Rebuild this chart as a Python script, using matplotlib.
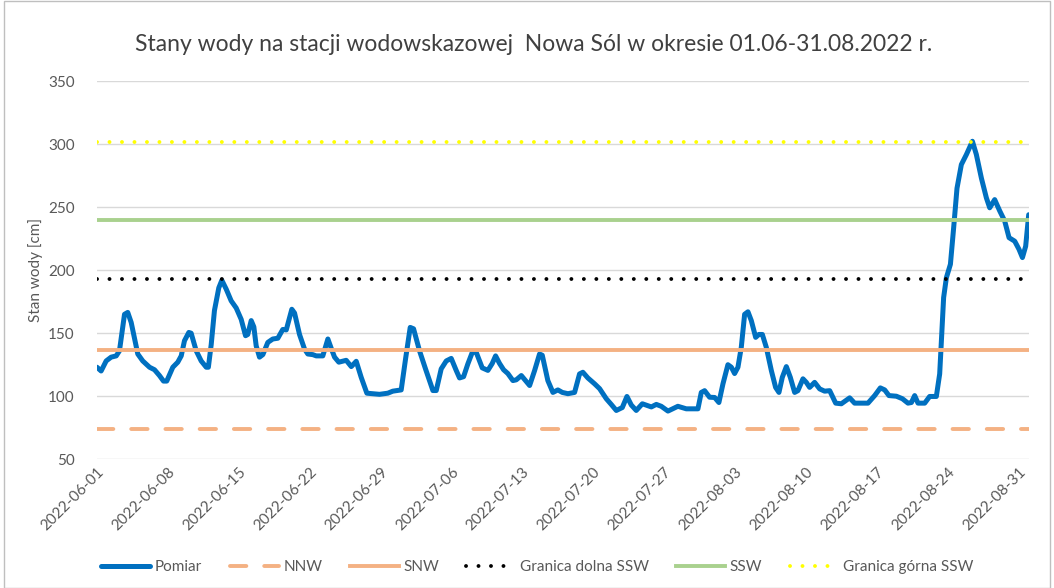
import matplotlib
matplotlib.use("Agg")
import matplotlib.pyplot as plt
import matplotlib.dates as mdates
import pandas as pd
from matplotlib.patches import Rectangle

# ---- data ----
start_date = "2022-06-01"
day_offsets = [0.0, 0.41, 0.91, 1.40, 1.90, 2.22, 2.72, 3.04, 3.38, 4.03, 4.52, 5.19, 5.68, 6.17, 6.57, 6.89,
               7.49, 7.98, 8.32, 8.64, 9.07, 9.30, 9.80, 10.29, 10.79, 11.0, 11.28, 11.60, 12.03, 12.33, 12.76,
               13.25, 13.75, 14.24, 14.67, 14.89, 15.23, 15.49, 15.72, 16.05, 16.38, 16.87, 17.36, 17.86, 18.19,
               18.35, 18.69, 19.24, 19.51, 20.0, 20.49, 20.82, 21.31, 21.65, 22.30, 22.80, 23.13, 23.46, 23.88,
               24.61, 25.11, 25.60, 26.09, 26.65, 27.24, 27.90, 28.72, 29.21, 30.04, 30.47, 30.93, 31.26, 31.85,
               32.44, 33.17, 33.50, 33.99, 34.49, 34.98, 35.48, 35.80, 36.20, 36.62, 37.06, 37.45, 38.04, 38.60,
               39.03, 39.36, 39.75, 40.15, 40.57, 41.07, 41.40, 41.90, 42.32, 42.72, 43.21, 43.70, 43.97, 44.52,
               45.02, 45.51, 45.95, 46.50, 47.16, 47.65, 47.98, 48.47, 49.14, 49.63, 50.29, 50.79, 51.28, 51.87,
               52.33, 52.76, 53.25, 53.85, 54.40, 54.74, 55.23, 55.72, 56.38, 57.36, 58.19, 59.34, 59.67, 60.0,
               60.49, 60.99, 61.41, 61.81, 62.30, 62.64, 62.96, 63.29, 63.62, 63.95, 64.28, 64.61, 65.04, 65.36,
               65.70, 66.09, 66.59, 67.01, 67.34, 67.67, 68.07, 68.46, 68.89, 69.21, 69.71, 70.04, 70.37, 70.86,
               71.36, 71.85, 72.35, 72.94, 73.50, 74.32, 74.81, 76.13, 76.79, 77.35, 77.78, 78.20, 78.93, 79.53,
               80.08, 80.42, 80.74, 81.07, 81.73, 82.22, 82.88, 83.21, 83.38, 83.60, 83.87, 84.27, 84.59, 84.92,
               85.35, 85.85, 86.44, 86.83, 87.33, 87.82, 88.15, 88.64, 89.14, 89.63, 90.06, 90.62, 91.04, 91.38,
               91.70, 92.0]
pomiar = [123, 120, 128, 131, 132, 136, 165, 166.5, 158.5, 133.5, 128, 123, 121, 116.4, 112, 112,
          123, 127, 132, 144, 150.6, 150, 136, 128, 123, 123, 141, 168, 186, 192, 185,
          175.7, 170, 161, 148, 149, 160, 155, 140, 131, 133, 142.7, 145.4, 146, 150.6,
          153, 152.6, 169, 166, 149, 137.5, 133.5, 133, 132, 132, 145.4, 138, 131, 127,
          128.5, 123.5, 127.7, 115, 102.4, 102, 101.5, 102.4, 104, 105, 129.6, 154.6, 153.5, 136,
          121.7, 104.5, 104.5, 121.7, 128, 130, 120.3, 114.5, 115.5, 125.6, 134.8, 134.8, 122.5, 120.5,
          126, 132, 126, 121, 118, 112.4, 113, 116.4, 112.4, 108.5, 120.3, 133.5, 132.5, 112.4,
          103, 105, 103, 102, 103, 117.7, 119, 114.5, 109.8, 106, 98, 93.4, 88.7, 91,
          99.8, 93, 88.7, 94, 92.5, 91.5, 93.5, 92, 88.2, 92, 90, 90, 103, 104.4,
          99.2, 99, 95, 109.8, 125, 123, 118, 123, 138.8, 165, 167, 160, 146.7, 149,
          149, 138.8, 120.3, 107, 103, 115, 123.5, 115, 103, 104.4, 113.8, 111, 107, 111,
          105.8, 104, 104.4, 94.5, 94, 98.7, 94.5, 94.5, 100.5, 106.6, 105, 100.5, 100, 98,
          94.5, 95, 100.5, 94.5, 94.5, 99.8, 99.8, 117.7, 144, 178.3, 194, 204.7, 233.7, 265,
          283.8, 291.8, 302.3, 291.8, 273, 257.4, 249.5, 256, 247, 239, 225.8, 223, 216.6, 210,
          219, 244]

nnw = 74
snw = 137
granica_dolna_ssw = 193
ssw = 240
granica_gorna_ssw = 302

series_labels = ["Pomiar", "NNW", "SNW", "Granica dolna SSW", "SSW", "Granica górna SSW"]
title = "Stany wody na stacji wodowskazowej  Nowa Sól w okresie 01.06-31.08.2022 r."
ylabel = "Stan wody [cm]"
y_ticks = [50, 100, 150, 200, 250, 300, 350]
tick_dates = pd.date_range("2022-06-01", "2022-08-31", freq="7D")

# ---- plot ----
plt.rcParams["font.family"] = ["Lato", "DejaVu Sans"]
fig = plt.figure(figsize=(10.54, 5.88), dpi=100)
ax = fig.add_axes([0.092, 0.219, 0.884, 0.643])

t0 = pd.Timestamp(start_date)
times = t0 + pd.to_timedelta(day_offsets, unit="D")
x_end = t0 + pd.Timedelta(days=92)

hl = 2.8
ax.plot(times, pomiar, color="#0070C0", lw=3.6, solid_joinstyle="round", solid_capstyle="round",
        label=series_labels[0], zorder=3)
ax.plot([t0, x_end], [nnw, nnw], color="#F4B183", lw=hl, linestyle=(0, (4.2, 4.6)),
        dash_capstyle="round", label=series_labels[1], zorder=4)
ax.plot([t0, x_end], [snw, snw], color="#F4B183", lw=hl, label=series_labels[2], zorder=4)
ax.plot([t0, x_end], [granica_dolna_ssw] * 2, color="black", lw=hl, linestyle=(0, (0.01, 3.2)),
        dash_capstyle="round", label=series_labels[3], zorder=4)
ax.plot([t0, x_end], [ssw, ssw], color="#A9D18E", lw=hl, label=series_labels[4], zorder=4)
ax.plot([t0, x_end], [granica_gorna_ssw] * 2, color="#FFFF00", lw=hl, linestyle=(0, (0.01, 3.2)),
        dash_capstyle="round", label=series_labels[5], zorder=4)

ax.set_xlim(t0, x_end)
ax.set_ylim(50, 350)
ax.set_yticks(y_ticks)
ax.yaxis.grid(True, color="#D9D9D9", lw=1)
ax.set_axisbelow(True)
for s in ax.spines.values():
    s.set_visible(False)
ax.tick_params(axis="both", length=0, colors="#595959", labelsize=11)
ax.tick_params(axis="y", pad=16)
ax.set_xticks(tick_dates)
ax.xaxis.set_major_formatter(mdates.DateFormatter("%Y-%m-%d"))
for lbl in ax.get_xticklabels():
    lbl.set_rotation(45)
    lbl.set_ha("right")
    lbl.set_rotation_mode("anchor")
ax.tick_params(axis="x", pad=4)

ax.set_ylabel(ylabel, color="#595959", fontsize=11, labelpad=4)
fig.text(0.506, 0.925, title, ha="center", va="center", fontsize=16.5, color="#404040")

leg = fig.legend(loc="center", bbox_to_anchor=(0.51, 0.035), ncol=6, frameon=False,
                 fontsize=11, handlelength=3.2, columnspacing=1.8, handletextpad=0.3)
for t in leg.get_texts():
    t.set_color("#595959")

fig.patches.append(Rectangle((0.004, 0.0), 0.992, 0.998, transform=fig.transFigure,
                             fill=False, edgecolor="#BFBFBF", lw=1))

fig.savefig("out.png", dpi=100)
